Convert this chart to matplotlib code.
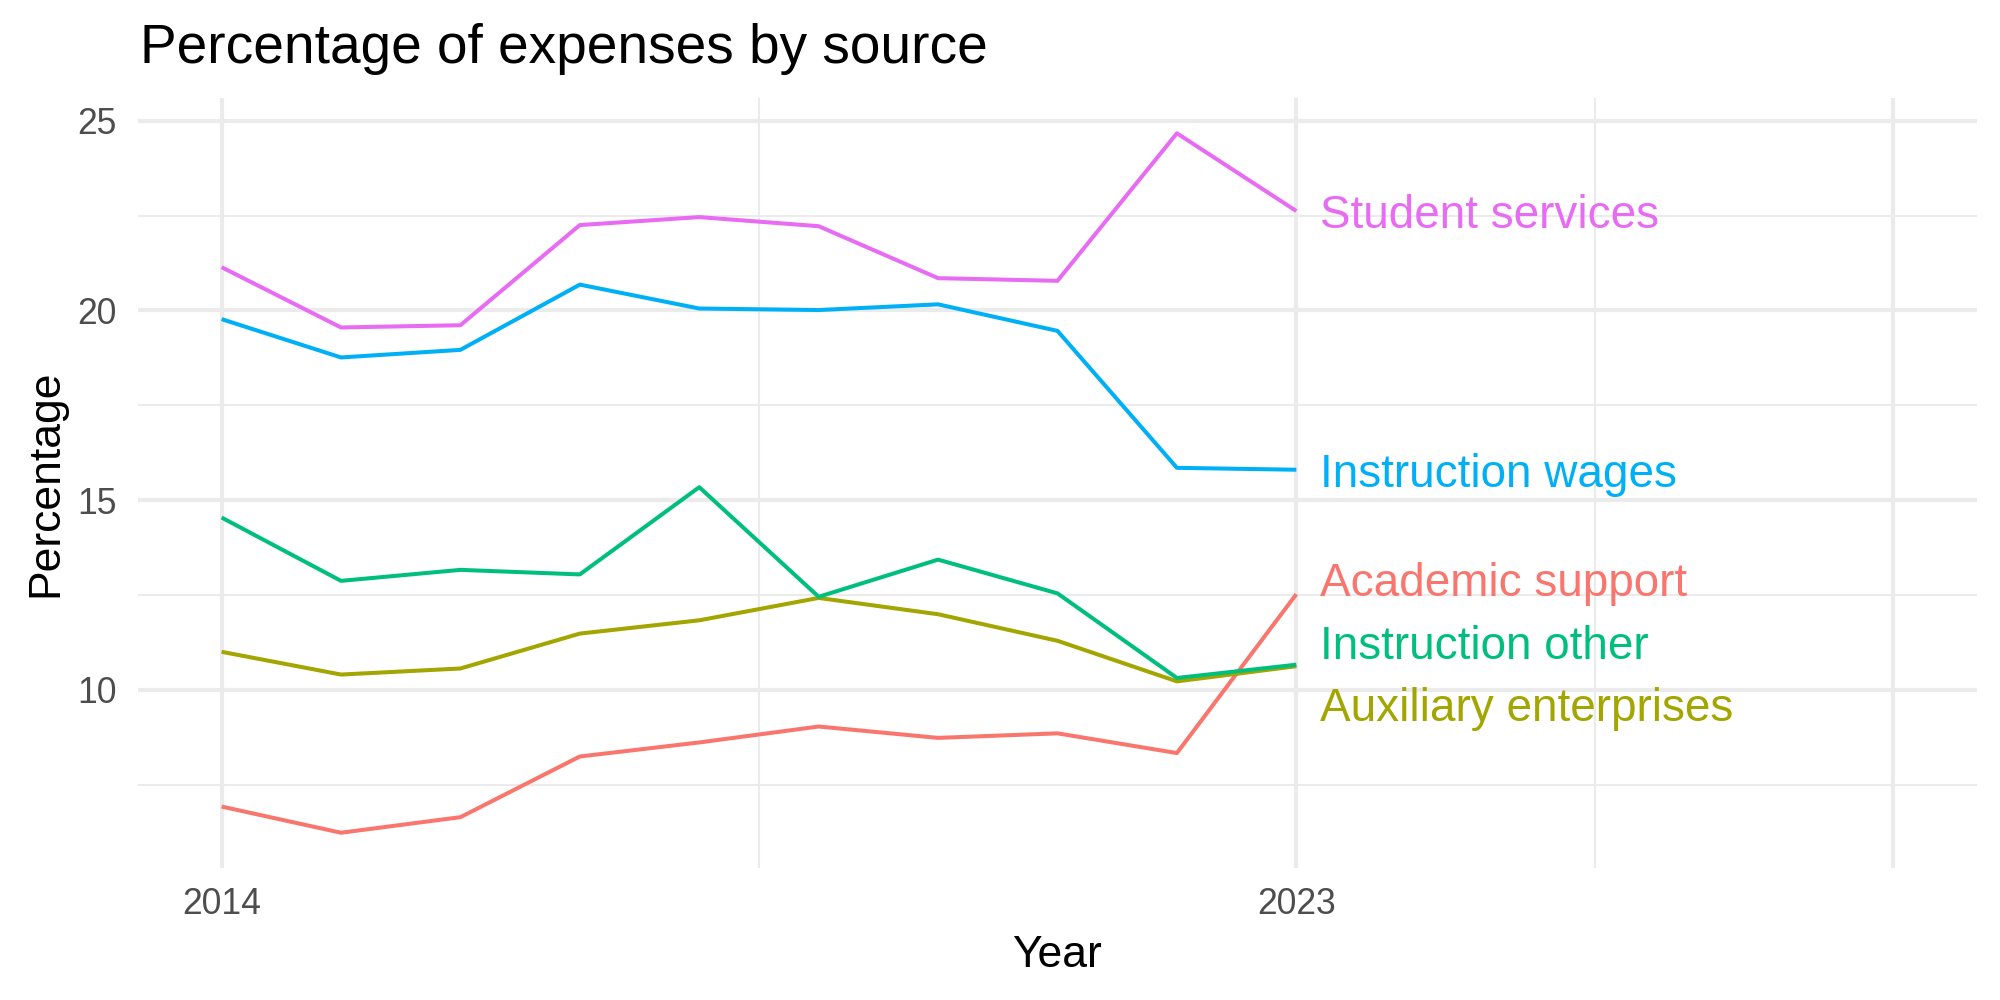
import matplotlib
matplotlib.use("Agg")
import matplotlib.pyplot as plt

plt.rcParams["font.family"] = ["Liberation Sans", "DejaVu Sans"]

YEARS = [2014, 2015, 2016, 2017, 2018, 2019, 2020, 2021, 2022, 2023]
X_END = 2028

SOURCES = [
    "Academic support",
    "Auxiliary enterprises",
    "Instruction other",
    "Instruction wages",
    "Student services",
]

academic_support = [6.92, 6.23, 6.64, 8.24, 8.61, 9.03, 8.73, 8.85, 8.33, 12.52]
auxiliary_enterprises = [11.00, 10.40, 10.56, 11.48, 11.83, 12.42, 11.99, 11.29, 10.22, 10.62]
instruction_other = [14.54, 12.87, 13.16, 13.04, 15.34, 12.45, 13.43, 12.54, 10.31, 10.66]
instruction_wages = [19.77, 18.76, 18.96, 20.68, 20.05, 20.01, 20.16, 19.46, 15.85, 15.80]
student_services = [21.14, 19.55, 19.61, 22.25, 22.46, 22.22, 20.85, 20.78, 24.67, 22.62]

COLORS = ["#F8766D", "#A3A500", "#00BF7D", "#00B0F6", "#E76BF3"]

GRID = "#EBEBEB"
TICK_COLOR = "#4D4D4D"


def spread_labels(values, gap):
    # simple repel: merge overlapping labels into groups centred on their mean
    order = sorted(range(len(values)), key=lambda i: -values[i])
    groups = [[i] for i in order]

    def bounds(g):
        c = sum(values[i] for i in g) / len(g)
        half = gap * (len(g) - 1) / 2
        return c + half, c - half

    merged = True
    while merged:
        merged = False
        for k in range(len(groups) - 1):
            top_low = bounds(groups[k])[1]
            next_high = bounds(groups[k + 1])[0]
            if top_low - next_high < gap:
                groups[k] = groups[k] + groups[k + 1]
                del groups[k + 1]
                merged = True
                break

    pos = [0.0] * len(values)
    for g in groups:
        high = bounds(g)[0]
        for j, i in enumerate(g):
            pos[i] = high - j * gap
    return pos


def main():
    series = [academic_support, auxiliary_enterprises, instruction_other,
              instruction_wages, student_services]

    fig = plt.figure(figsize=(10, 5), dpi=200)
    ax = fig.add_axes([0.069, 0.1323, 0.9195, 0.7694])

    for name, vals, color in zip(SOURCES, series, COLORS):
        ax.plot(YEARS, vals, color=color, linewidth=1.45, solid_capstyle="butt",
                zorder=3)

    ends = [s[-1] for s in series]
    label_y = spread_labels(ends, 1.65)
    for name, y, color in zip(SOURCES, label_y, COLORS):
        ax.text(YEARS[-1] + 0.2, y, name, color=color, fontsize=16.5,
                ha="left", va="center_baseline", zorder=4)

    # ggplot-like 5% expansion
    x0, x1 = YEARS[0], X_END
    dx = (x1 - x0) * 0.05
    ax.set_xlim(x0 - dx, x1 + dx)
    all_vals = [v for s in series for v in s]
    y0, y1 = min(all_vals), max(all_vals)
    dy = (y1 - y0) * 0.05
    ax.set_ylim(y0 - dy, y1 + dy)

    ax.set_xticks([2014, 2023, 2028])
    ax.set_xticklabels(["2014", "2023", ""])
    ax.set_xticks([2018.5, 2025.5], minor=True)
    ax.set_yticks([10, 15, 20, 25])
    ax.set_yticks([7.5, 12.5, 17.5, 22.5], minor=True)

    ax.grid(True, which="major", color=GRID, linewidth=1.5, zorder=0)
    ax.grid(True, which="minor", color=GRID, linewidth=0.75, zorder=0)
    ax.set_axisbelow(True)

    for side in ax.spines.values():
        side.set_visible(False)
    ax.tick_params(which="both", length=0)
    ax.tick_params(axis="x", pad=7, labelsize=12.8, labelcolor=TICK_COLOR)
    ax.tick_params(axis="y", pad=7.6, labelsize=12.8, labelcolor=TICK_COLOR)

    fig.text(0.07, 0.937, "Percentage of expenses by source", fontsize=19.8,
             ha="left", va="baseline")
    fig.text(0.5285, 0.0333, "Year", fontsize=16, ha="center", va="baseline")
    fig.text(0.0285, 0.517, "Percentage", fontsize=16, rotation=90,
             rotation_mode="anchor", ha="center", va="baseline")

    fig.savefig("out.png", dpi=200, facecolor="white")


if __name__ == "__main__":
    main()
